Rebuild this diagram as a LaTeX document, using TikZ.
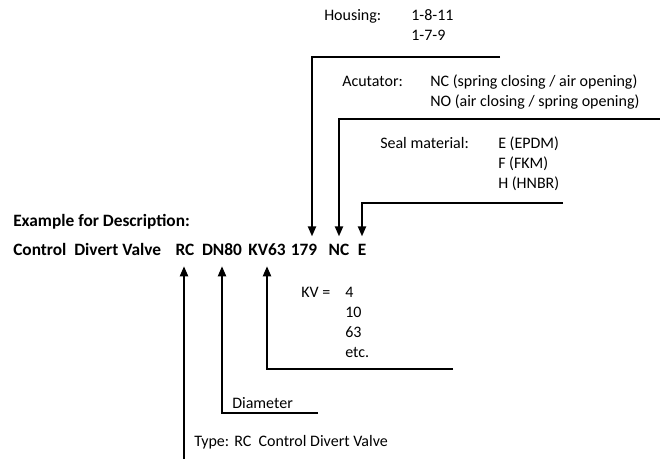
\documentclass[tikz,border=0pt]{standalone}
\usepackage{fontspec}
\setmainfont{Carlito}
\usetikzlibrary{arrows.meta, calc}

\begin{document}
\begin{tikzpicture}[
  x=0.75pt, y=-0.75pt,
  every node/.style = {font=\fontsize{12}{15}\selectfont, inner sep=0pt, anchor=base west},
  bold/.style       = {font=\fontsize{13}{15}\selectfont\bfseries},
  code/.style       = {bold, anchor=base, text height=7pt, text depth=0pt, inner ysep=7.5pt},
  conn/.style       = {line width=1.5pt, -{Triangle[length=7.5pt, width=6pt]}},
]
\useasboundingbox (0,0) rectangle (660,459);

%% ── Shared baseline of the code line ─────────────────────────────────────
\def\cy{256}

% ── CODE LINE ───────────────────────────────────────────────────────────────
\node[bold] (exTitle) at (13,227) {Example for Description:};
\node[code, anchor=base west] (codeName) at (13,\cy) {Control\ \ Divert Valve};
\node[code] (codeRC)  at (185,\cy) {RC};
\node[code] (codeDN)  at (222,\cy) {DN80};
\node[code] (codeKV)  at (267,\cy) {KV63};
\node[code] (codeHsg) at (304,\cy) {179};
\node[code] (codeAct) at (339,\cy) {NC};
\node[code] (codeSeal) at (362,\cy) {E};

% ── UPPER LABELS ────────────────────────────────────────────────────────────
% Housing
\node (hsgLbl)  at (324,21) {Housing:};
\node (hsgVal1) at (411,21) {1-8-11};
\node (hsgVal2) at (411,41) {1-7-9};
\coordinate (hsgEnd) at (500,57);

% Actuator
\node (actLbl)  at (342,87)  {Acutator:};
\node (actVal1) at (430,87)  {NC (spring closing / air opening)};
\node (actVal2) at (430,107) {NO (air closing / spring opening)};
\coordinate (actEnd) at (660,119);

% Seal material
\node (sealLbl)  at (380,149) {Seal material:};
\node (sealVal1) at (498,149) {E (EPDM)};
\node (sealVal2) at (498,169) {F (FKM)};
\node (sealVal3) at (498,189) {H (HNBR)};
\coordinate (sealEnd) at (563,203);

% Connectors from above
\draw[conn] (hsgEnd)  -| ($(codeHsg.north)+(8,0)$);
\draw[conn] (actEnd)  -| (codeAct.north);
\draw[conn] (sealEnd) -| (codeSeal.north);

% ── LOWER LABELS ────────────────────────────────────────────────────────────
% KV value
\node (kvLbl)  at (301,298) {KV =};
\node (kvVal1) at (345,298) {4};
\node (kvVal2) at (345,318) {10};
\node (kvVal3) at (345,338) {63};
\node (kvVal4) at (345,358) {etc.};
\coordinate (kvEnd) at (453,369);

% Diameter
\node (dnLbl) at (232,408) {Diameter};
\coordinate (dnEnd) at (318,413);

% Type
\node (typeLbl) at (194,446) {Type:};
\node (typeVal) at (234,446) {RC\ \ Control Divert Valve};
\coordinate (typeEnd) at (184,460);

% Connectors from below
\draw[conn] (kvEnd)   -| (codeKV.south);
\draw[conn] (dnEnd)   -| (codeDN.south);
\draw[conn] (typeEnd) -- (typeEnd |- codeRC.south);

\end{tikzpicture}
\end{document}
